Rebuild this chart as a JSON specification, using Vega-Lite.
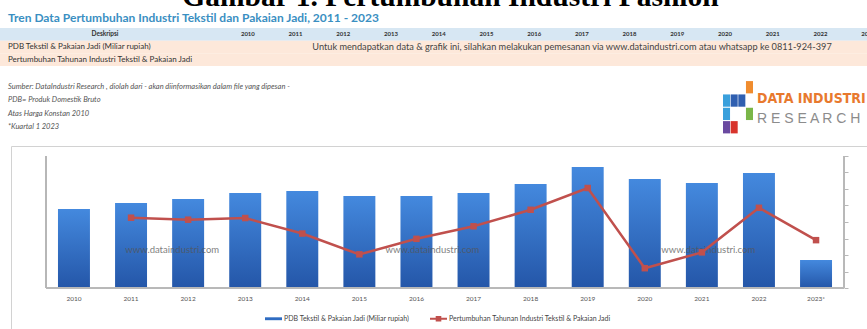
{
  "$schema": "https://vega.github.io/schema/vega-lite/v6.json",
  "padding": 0,
  "background": "#ffffff",
  "spacing": 0,
  "resolve": {"scale": {"color": "independent"}, "legend": {"color": "independent"}},
  "config": {
    "view": {"stroke": null},
    "font": "Lato",
    "text": {"font": "Lato"},
    "axis": {"labelFont": "Lato"},
    "legend": {"labelFont": "Lato"}
  },
  "datasets": {
    "headings": [
      {"role": "caption", "text": "Gambar 1. Pertumbuhan Industri Fashion"},
      {"role": "heading", "text": "Tren Data Pertumbuhan Industri Tekstil dan Pakaian Jadi, 2011 - 2023"}
    ],
    "rows": [
      {"row": "hdr", "label": "Deskripsi", "part": "Header"},
      {"row": "r1", "label": "PDB Tekstil & Pakaian Jadi (Miliar rupiah)", "part": "Body"},
      {"row": "r2", "label": "Pertumbuhan Tahunan Industri Tekstil & Pakaian Jadi", "part": "Body"}
    ],
    "columns": [
      {"col": "2010"}, {"col": "2011"}, {"col": "2012"}, {"col": "2013"}, {"col": "2014"},
      {"col": "2015"}, {"col": "2016"}, {"col": "2017"}, {"col": "2018"}, {"col": "2019"},
      {"col": "2020"}, {"col": "2021"}, {"col": "2022"}, {"col": "2023"}
    ],
    "notice": [
      {"row": "r1", "text": "Untuk mendapatkan data & grafik ini, silahkan melakukan pemesanan via www.dataindustri.com atau whatsapp ke 0811-924-397"}
    ],
    "notes": [
      {"line": "l1", "text": "Sumber: DataIndustri Research , diolah dari - akan diinformasikan dalam file yang dipesan -"},
      {"line": "l2", "text": "PDB= Produk Domestik Bruto"},
      {"line": "l3", "text": "Atas Harga Konstan 2010"},
      {"line": "l4", "text": "*Kuartal 1 2023"}
    ],
    "logo": [
      {"c": "c3", "r": "r0", "tone": "orange"},
      {"c": "c2", "r": "r1", "tone": "navy"},
      {"c": "c1", "r": "r1", "tone": "navy"},
      {"c": "c0", "r": "r1", "tone": "azure"},
      {"c": "c0", "r": "r2", "tone": "azure"},
      {"c": "c3", "r": "r2", "tone": "green"},
      {"c": "c1", "r": "r3", "tone": "red"},
      {"c": "c0", "r": "r3", "tone": "violet"}
    ],
    "brand": [
      {"line": "t1", "text": "DATA INDUSTRI"},
      {"line": "t2", "text": "R E S E A R C H"}
    ],
    "main": [
      {"year": "2010", "pdb": 98700, "growth": null},
      {"year": "2011", "pdb": 106300, "growth": 6.3},
      {"year": "2012", "pdb": 111200, "growth": 5.7},
      {"year": "2013", "pdb": 118800, "growth": 6.2},
      {"year": "2014", "pdb": 121200, "growth": 1.5},
      {"year": "2015", "pdb": 115100, "growth": -4.8},
      {"year": "2016", "pdb": 114900, "growth": -0.1},
      {"year": "2017", "pdb": 118700, "growth": 3.7},
      {"year": "2018", "pdb": 130100, "growth": 8.7},
      {"year": "2019", "pdb": 151300, "growth": 15.3},
      {"year": "2020", "pdb": 136200, "growth": -9.0},
      {"year": "2021", "pdb": 131300, "growth": -4.2},
      {"year": "2022", "pdb": 143700, "growth": 9.3},
      {"year": "2023*", "pdb": 35000, "growth": -0.5}
    ],
    "watermark": [{"text": "www.dataindustri.com"}],
    "blank": [{"t": ""}]
  },
  "vconcat": [
    {
      "width": 867,
      "height": 28,
      "data": {"name": "headings"},
      "layer": [
        {
          "transform": [{"filter": "datum.role === 'caption'"}],
          "mark": {"type": "text", "font": "Liberation Serif", "fontWeight": "bold", "fontSize": 29.5, "baseline": "alphabetic", "align": "center", "dx": 17, "dy": -8, "color": "#000000", "clip": true},
          "encoding": {"text": {"field": "text"}}
        },
        {
          "transform": [{"filter": "datum.role === 'heading'"}],
          "mark": {"type": "text", "font": "Lato", "fontWeight": "bold", "fontSize": 12, "baseline": "middle", "align": "left", "dx": -425.5, "dy": 4, "color": "#3a8fc2"},
          "encoding": {"text": {"field": "text"}}
        }
      ]
    },
    {
      "hconcat": [
        {
          "width": 224,
          "height": 38,
          "data": {"name": "rows"},
          "encoding": {
            "y": {"field": "row", "type": "nominal", "scale": {"type": "band", "domain": ["hdr", "r1", "r2"], "paddingInner": 0, "paddingOuter": 0}, "axis": null}
          },
          "layer": [
            {
              "mark": {"type": "rect"},
              "encoding": {
                "color": {"field": "part", "type": "nominal", "scale": {"domain": ["Header", "Body"], "range": ["#d7e7f3", "#fde8da"]}, "legend": null}
              }
            },
            {
              "transform": [{"filter": "datum.row === 'hdr'"}],
              "mark": {"type": "text", "fontSize": 6.5, "fontWeight": "bold", "color": "#333333", "dx": -7},
              "encoding": {"text": {"field": "label"}}
            },
            {
              "transform": [{"filter": "datum.row !== 'hdr'"}],
              "mark": {"type": "text", "fontSize": 8, "color": "#333333", "align": "left", "dx": -104},
              "encoding": {"text": {"field": "label"}}
            }
          ]
        },
        {
          "width": 668,
          "height": 38,
          "layer": [
            {
              "data": {"name": "rows"},
              "mark": {"type": "rect"},
              "encoding": {
                "y": {"field": "row", "type": "nominal", "scale": {"type": "band", "domain": ["hdr", "r1", "r2"], "paddingInner": 0, "paddingOuter": 0}, "axis": null},
                "color": {"field": "part", "type": "nominal", "scale": {"domain": ["Header", "Body"], "range": ["#d7e7f3", "#fde8da"]}, "legend": null}
              }
            },
            {
              "data": {"name": "columns"},
              "mark": {"type": "text", "fontSize": 6, "fontWeight": "bold", "color": "#333333"},
              "encoding": {
                "x": {"field": "col", "type": "nominal", "scale": {"type": "band", "paddingInner": 0, "paddingOuter": 0}, "axis": null},
                "y": {"datum": "hdr", "type": "nominal"},
                "text": {"field": "col"}
              }
            },
            {
              "data": {"name": "notice"},
              "mark": {"type": "text", "fontSize": 9.2, "color": "#444444", "dx": 14},
              "encoding": {
                "y": {"field": "row", "type": "nominal"},
                "text": {"field": "text"}
              }
            }
          ]
        }
      ],
      "spacing": 0,
      "resolve": {"scale": {"color": "independent"}}
    },
    {
      "hconcat": [
        {
          "width": 723,
          "height": 79,
          "data": {"name": "notes"},
          "mark": {"type": "text", "fontSize": 7.5, "fontStyle": "italic", "color": "#555555", "align": "left", "dx": -353.5},
          "encoding": {
            "y": {"field": "line", "type": "nominal", "scale": {"type": "band", "paddingInner": 0, "paddingOuter": 0.97, "align": 0.556}, "axis": null},
            "text": {"field": "text"}
          }
        },
        {
          "width": 30,
          "height": 79,
          "data": {"name": "logo"},
          "mark": {"type": "rect"},
          "encoding": {
            "x": {"field": "c", "type": "nominal", "scale": {"domain": ["c0", "c1", "c2", "c3"], "paddingInner": 0.08, "paddingOuter": 0}, "axis": null},
            "y": {"field": "r", "type": "nominal", "scale": {"domain": ["r0", "r1", "r2", "r3"], "paddingInner": 0.08, "paddingOuter": 2.79, "align": 0.565}, "axis": null},
            "color": {"field": "tone", "type": "nominal", "scale": {"domain": ["orange", "navy", "azure", "green", "red", "violet"], "range": ["#f08c2e", "#2f5fb0", "#3aa0dc", "#7ab648", "#d8342c", "#6a4aa0"]}, "legend": null}
          }
        },
        {
          "width": 114,
          "height": 79,
          "data": {"name": "brand"},
          "encoding": {
            "y": {"field": "line", "type": "nominal", "scale": {"type": "band", "paddingInner": 0, "paddingOuter": 1.469, "align": 0.596}, "axis": null},
            "text": {"field": "text"}
          },
          "layer": [
            {
              "transform": [{"filter": "datum.line === 't1'"}],
              "mark": {"type": "text", "font": "DejaVu Sans Condensed", "fontWeight": "bold", "fontSize": 14, "color": "#e8792e", "align": "left", "dx": -53}
            },
            {
              "transform": [{"filter": "datum.line === 't2'"}],
              "mark": {"type": "text", "font": "Liberation Sans", "fontSize": 14, "color": "#8c8c8c", "align": "left", "dx": -53}
            }
          ]
        }
      ],
      "spacing": 0,
      "resolve": {"scale": {"color": "independent"}}
    },
    {
      "hconcat": [
        {
          "width": 10,
          "height": 190,
          "data": {"name": "blank"},
          "mark": {"type": "text"},
          "encoding": {"text": {"field": "t"}}
        },
        {
          "width": 868,
          "height": 190,
          "view": {"stroke": "#d2d2d2", "strokeWidth": 1},
          "data": {"name": "main"},
          "resolve": {"scale": {"y": "independent"}},
          "layer": [
            {
              "mark": {"type": "bar", "fill": {"gradient": "linear", "x1": 0, "y1": 0, "x2": 0, "y2": 1, "stops": [{"offset": 0, "color": "#4489de"}, {"offset": 1, "color": "#2456a8"}]}},
              "encoding": {
                "x": {"field": "year", "type": "nominal", "sort": null, "scale": {"paddingInner": 0.44, "paddingOuter": 0.823}, "axis": {"orient": "bottom", "offset": -48, "domain": false, "ticks": false, "labelFontSize": 6.5, "labelColor": "#555555", "labelPadding": 7, "title": null, "labelAngle": 0}},
                "y": {"field": "pdb", "type": "quantitative", "scale": {"domain": [-60000, 177500], "nice": false}, "axis": null}
              }
            },
            {
              "mark": {"type": "rule", "color": "#b8b8b8", "strokeWidth": 1},
              "encoding": {
                "x": {"datum": "2010", "type": "nominal", "bandPosition": -0.375},
                "x2": {"datum": "2023*", "bandPosition": 1.375},
                "y": {"datum": 0, "type": "quantitative", "scale": {"domain": [-60000, 177500], "nice": false}, "axis": null}
              }
            },
            {
              "mark": {"type": "rule", "color": "#b8b8b8", "strokeWidth": 1},
              "encoding": {
                "x": {"datum": "2010", "type": "nominal", "bandPosition": -0.375},
                "y": {"datum": 0, "type": "quantitative", "scale": {"domain": [-60000, 177500], "nice": false}, "axis": null},
                "y2": {"datum": 165000}
              }
            },
            {
              "mark": {"type": "rule", "color": "#b8b8b8", "strokeWidth": 1},
              "encoding": {
                "x": {"datum": "2023*", "type": "nominal", "bandPosition": 1.375},
                "y": {"datum": 0, "type": "quantitative", "scale": {"domain": [-60000, 177500], "nice": false}, "axis": null},
                "y2": {"datum": 165000}
              }
            },
            {
              "data": {"name": "watermark"},
              "mark": {"type": "text", "fontSize": 9.5, "color": "#555555", "opacity": 0.75},
              "encoding": {
                "x": {"datum": "2012", "type": "nominal", "bandPosition": 0},
                "y": {"datum": 47500, "type": "quantitative", "scale": {"domain": [-60000, 177500], "nice": false}, "axis": null},
                "text": {"field": "text"}
              }
            },
            {
              "data": {"name": "watermark"},
              "mark": {"type": "text", "fontSize": 9.5, "color": "#555555", "opacity": 0.75},
              "encoding": {
                "x": {"datum": "2016", "type": "nominal", "bandPosition": 1},
                "y": {"datum": 47500, "type": "quantitative", "scale": {"domain": [-60000, 177500], "nice": false}, "axis": null},
                "text": {"field": "text"}
              }
            },
            {
              "data": {"name": "watermark"},
              "mark": {"type": "text", "fontSize": 9.5, "color": "#555555", "opacity": 0.75},
              "encoding": {
                "x": {"datum": "2021", "type": "nominal", "bandPosition": 0.7},
                "y": {"datum": 47500, "type": "quantitative", "scale": {"domain": [-60000, 177500], "nice": false}, "axis": null},
                "text": {"field": "text"}
              }
            },
            {
              "transform": [{"filter": "isValid(datum.growth)"}],
              "mark": {"type": "line", "strokeWidth": 2.5, "point": {"shape": "square", "size": 42, "filled": true}},
              "encoding": {
                "x": {"field": "year", "type": "nominal", "sort": null},
                "y": {"field": "growth", "type": "quantitative", "scale": {"domain": [-29.545, 28.03], "nice": false, "zero": false}, "axis": {"orient": "right", "offset": -35, "values": [-15, -10, -5, 0, 5, 10, 15, 20, 25], "labels": false, "domain": false, "grid": false, "ticks": true, "tickSize": 4, "tickColor": "#b8b8b8", "title": null}},
                "color": {
                  "datum": "Pertumbuhan Tahunan Industri Tekstil & Pakaian Jadi",
                  "type": "nominal",
                  "scale": {"domain": ["PDB Tekstil & Pakaian Jadi (Miliar rupiah)", "Pertumbuhan Tahunan Industri Tekstil & Pakaian Jadi"], "range": ["#2f6cc2", "#c0504d"]},
                  "legend": {
                    "orient": "none",
                    "legendX": 265,
                    "legendY": 164,
                    "direction": "horizontal",
                    "title": null,
                    "labelFontSize": 7,
                    "labelLimit": 400,
                    "labelColor": "#444444",
                    "symbolSize": 289,
                    "columnPadding": 20,
                    "labelOffset": 2,
                    "encode": {
                      "symbols": {
                        "update": {
                          "shape": {"signal": "datum.value === 'PDB Tekstil & Pakaian Jadi (Miliar rupiah)' ? 'M-1,-0.17H1V0.17H-1Z' : 'M-1,-0.12H-0.33V-0.33H0.33V-0.12H1V0.12H0.33V0.33H-0.33V0.12H-1Z'"},
                          "fill": {"signal": "datum.value === 'PDB Tekstil & Pakaian Jadi (Miliar rupiah)' ? '#2f6cc2' : '#c0504d'"},
                          "strokeWidth": {"value": 0},
                          "opacity": {"value": 1}
                        }
                      }
                    }
                  }
                }
              }
            }
          ]
        }
      ],
      "spacing": 0
    }
  ]
}
